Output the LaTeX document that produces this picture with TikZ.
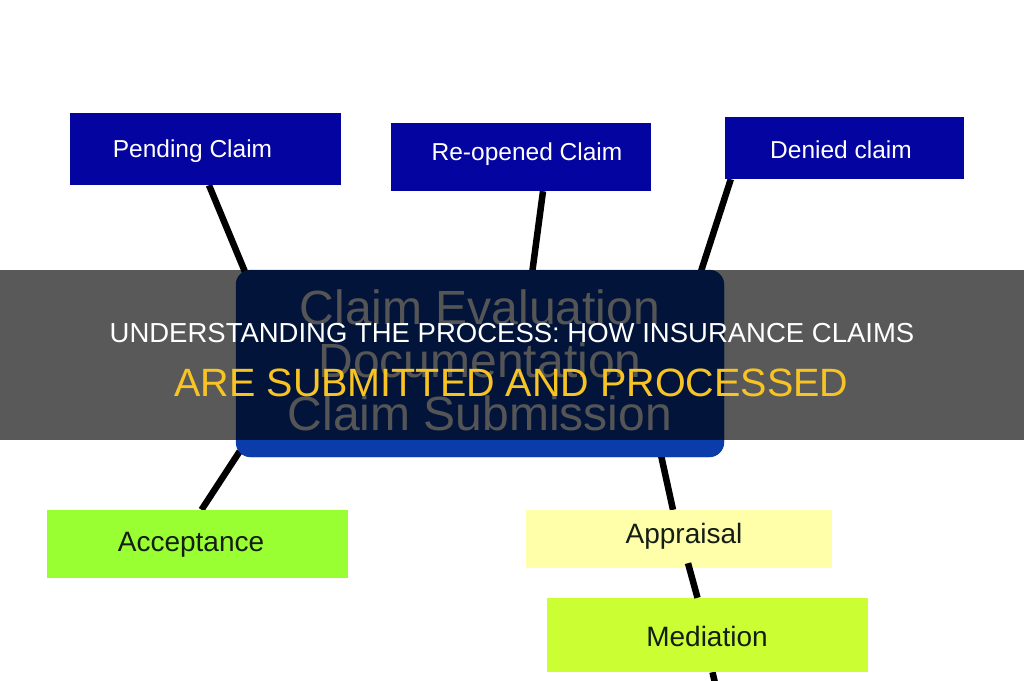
\documentclass[tikz,border=0pt]{standalone}
\usepackage{fontspec}
\setmainfont{Liberation Sans}
\usepackage{xcolor}
\usetikzlibrary{positioning, calc}
\definecolor{clmNavy}{RGB}{4,4,160}
\definecolor{clmHub}{RGB}{10,60,170}
\definecolor{clmAccept}{RGB}{153,255,51}
\definecolor{clmAppraise}{RGB}{255,255,170}
\definecolor{clmMediate}{RGB}{204,255,51}
\definecolor{clmInk}{RGB}{20,30,20}
\definecolor{titleGold}{RGB}{247,196,36}

\begin{document}
\begin{tikzpicture}[x=1pt, y=-1pt,
    statusBox/.style={fill=clmNavy, text=white, inner sep=0pt,
      font=\fontsize{24.5}{26}\selectfont},
    stageBox/.style={text=clmInk, inner sep=0pt,
      font=\fontsize{28}{30}\selectfont},
    wire/.style={line width=6.5pt, black},
    titleText/.style={inner sep=0pt, anchor=center}]
        % Canvas
        \clip (0,0) rectangle (1024,680);
        \fill[white] (0,0) rectangle (1024,680);
        % Central hub and the claim states
        \node[fill=clmHub, rounded corners=15pt, minimum width=488pt,
          minimum height=187pt, inner sep=0pt] (hub) at (480,363.5) {};
        \node[statusBox, minimum width=271pt, minimum height=72pt] (pend) at (205.5,149) {};
        \node[statusBox, minimum width=260pt, minimum height=68pt] (reop) at (521,157) {};
        \node[statusBox, minimum width=239pt, minimum height=62pt] (deny) at (844.5,148) {};
        % Stages after evaluation
        \node[stageBox, fill=clmAccept, minimum width=301pt, minimum height=68pt] (accept) at (197.5,544) {};
        \node[stageBox, fill=clmAppraise, minimum width=305pt, minimum height=58pt] (apprs) at (679,539) {};
        \node[stageBox, fill=clmMediate, minimum width=321pt, minimum height=74pt] (medi) at (707.5,635) {};
        \coordinate (exitPt) at (717,692);
        % Connectors
        \draw[wire] ([xshift=3.5pt]pend.south) -- ([xshift=10pt,yshift=-4pt]hub.north west);
        \draw[wire] ([xshift=22pt]reop.south) -- ([xshift=52pt,yshift=-4pt]hub.north);
        \draw[wire] ([xshift=6pt]deny.south west) -- ([xshift=-24pt,yshift=-4pt]hub.north east);
        \draw[wire] ([xshift=4pt,yshift=6pt]hub.south west) -- ([xshift=4pt]accept.north);
        \draw[wire] ([xshift=181pt,yshift=2pt]hub.south) -- ([xshift=-6pt]apprs.north);
        \draw[wire] ([xshift=5pt]medi.south) -- (exitPt);
        % Boxes again on top of the connector ends
        \fill[clmHub, rounded corners=15pt] (hub.north west) rectangle (hub.south east);
        \fill[clmNavy] (pend.north west) rectangle (pend.south east);
        \fill[clmNavy] (reop.north west) rectangle (reop.south east);
        \fill[clmNavy] (deny.north west) rectangle (deny.south east);
        \fill[clmAccept] (accept.north west) rectangle (accept.south east);
        \fill[clmAppraise] (apprs.north west) rectangle (apprs.south east);
        \fill[clmMediate] (medi.north west) rectangle (medi.south east);
        \draw[wire] ([xshift=9pt,yshift=5pt]apprs.south) -- ([xshift=-10pt]medi.north);
        % Labels
        \node[text=gray!8, align=center, font=\fontsize{48}{53}\selectfont] (hubText) at (480,360)
          {Claim Evaluation\\Documentation\\Claim Submission};
        \node[text=white, font=\fontsize{24.5}{26}\selectfont] (pendText) at (192.5,151) {Pending Claim};
        \node[text=white, font=\fontsize{24.5}{26}\selectfont] (reopText) at (527,154) {Re-opened Claim};
        \node[text=white, font=\fontsize{24.5}{26}\selectfont] (denyText) at (841,150) {Denied claim};
        \node[text=clmInk, font=\fontsize{28}{30}\selectfont] (acceptText) at (191,545) {Acceptance};
        \node[text=clmInk, font=\fontsize{28}{30}\selectfont] (apprsText) at (684,536) {Appraisal};
        \node[text=clmInk, font=\fontsize{28}{30}\selectfont] (mediText) at (707,636) {Mediation};
        % Title banner
        \fill[black, fill opacity=0.65] (0,270) rectangle (1024,440);
        \node[titleText, text=white, font=\fontsize{27.5}{30}\selectfont] (headOne) at (512,333)
          {UNDERSTANDING THE PROCESS: HOW INSURANCE CLAIMS};
        \node[titleText, text=titleGold, font=\fontsize{39.5}{42}\selectfont] (headTwo) at (511.5,383)
          {ARE SUBMITTED AND PROCESSED};
      \end{tikzpicture}
\end{document}
